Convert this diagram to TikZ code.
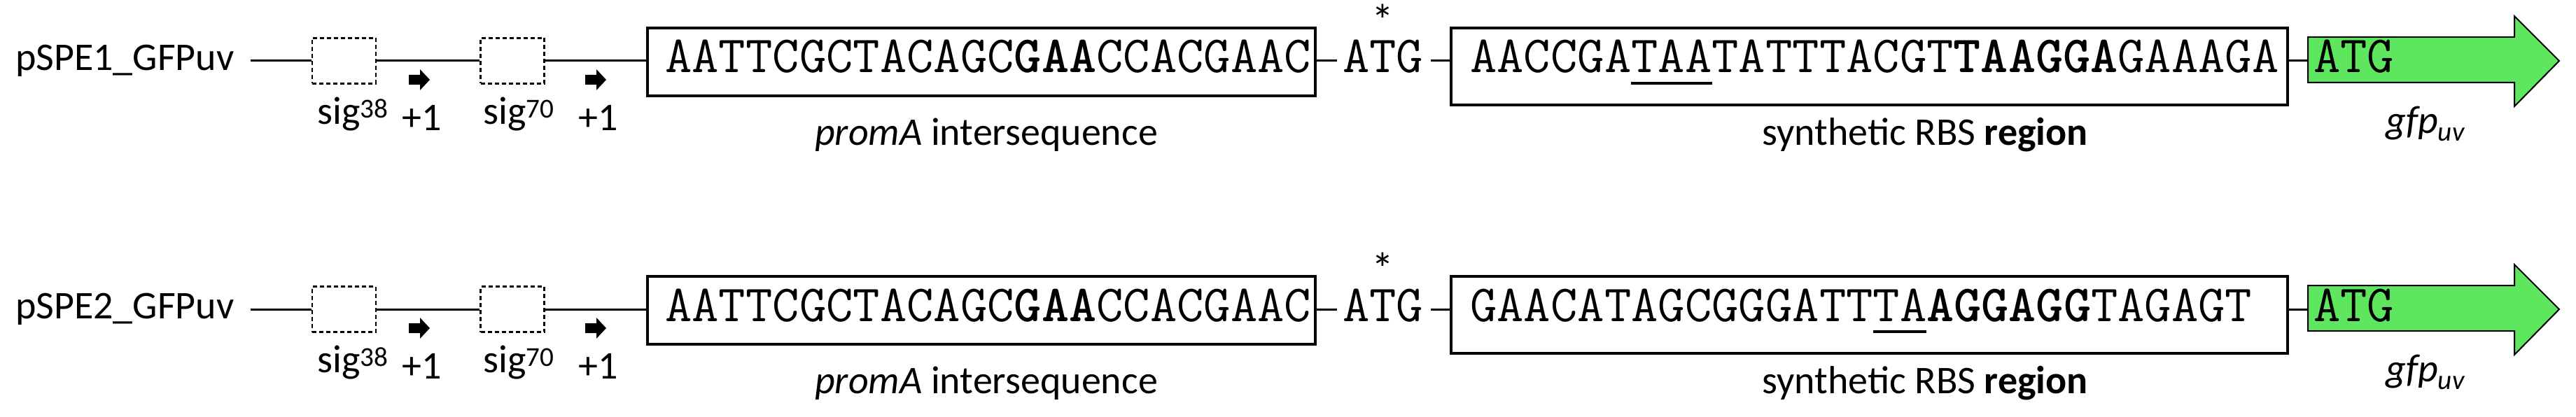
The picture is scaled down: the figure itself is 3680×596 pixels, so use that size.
\documentclass[tikz,border=0pt]{standalone}
\usepackage{fontspec}
\setmainfont{Carlito}
\tikzset{
  seqbox/.style={draw, line width=3.5pt, fill=white, inner sep=0pt},
  sigbox/.style={draw, dashed, dash pattern=on 6pt off 4pt, line width=2.5pt, fill=white, minimum width=91pt, minimum height=65pt, inner sep=0pt},
  lbl/.style={font=\fontsize{56}{60}\selectfont, inner sep=0pt},
  seqtxt/.style={font=\fontsize{74.5}{74}\selectfont\ttfamily, inner sep=0pt, anchor=base west},
  conn/.style={line width=3pt},
  tss/.style={fill=black}
}
\definecolor{gfpgreen}{RGB}{95,230,95}
\newcommand\ul[1]{\setbox0\hbox{#1}\rlap{\rule[-17pt]{\wd0}{4pt}}\box0}
\newcommand\tssarrow[2]{\fill[tss] (#1,#2) ++(0,-7) -- ++(16,0) -- ++(0,-8) -- ++(14,15) -- ++(-14,15) -- ++(0,-8) -- ++(-16,0) -- cycle;}
\newcommand\drawrow[3]{%
  \begin{scope}[yshift=-#1pt]
  \node[lbl, anchor=west] (n#2) at (22,87) {pSPE#2\_GFPuv};
  \coordinate (s#2) at (358,87);
  \node[sigbox] (a#2) at (491.5,87) {};
  \node[sigbox] (b#2) at (732,87) {};
  \node[seqbox, minimum width=954pt, minimum height=97pt] (p#2) at (1402,88.5) {};
  \node[seqtxt] at (950,104) {AATTCGCTACAGC\textbf{GAA}CCACGAAC};
  \node[seqtxt] (atg#2) at (1918,104) {ATG};
  \node[font=\fontsize{64}{64}\selectfont, inner sep=0pt, anchor=south] at (1975,52) {*};
  \node[seqbox, minimum width=1195pt, minimum height=110pt] (r#2) at (2670.5,95) {};
  \node[seqtxt] at (2100,104) {#3};
  \fill[gfpgreen, draw=black, line width=2pt] (3297,53) -- (3592,53) -- (3592,23) -- (3656,87) -- (3592,152) -- (3592,118) -- (3297,118) -- cycle;
  \coordinate (g#2) at (3297,87);
  \node[seqtxt] at (3305,104) {ATG};
  \draw[conn] (s#2) -- (a#2.west) (a#2.east) -- (b#2.west) (b#2.east) -- (p#2.west |- 0,87);
  \draw[conn] (p#2.east |- 0,87) -- (1910,87);
  \draw[conn] (2044,87) -- (r#2.west |- 0,87);
  \draw[conn] (r#2.east |- 0,87) -- (g#2);
  \tssarrow{584}{114}
  \tssarrow{836}{114}
  \node[lbl] at (504,163) {sig\textsuperscript{38}};
  \node[lbl] at (603,168) {+1};
  \node[lbl] at (741,163) {sig\textsuperscript{70}};
  \node[lbl] at (855,168) {+1};
  \node[lbl] at (1409,193) {\textit{promA} intersequence};
  \node[lbl] at (2750,193) {synthetic RBS \textbf{region}};
  \node[lbl] at (3465,177) {\textit{gfp}\textsubscript{\textit{uv}}};
  \end{scope}}
\begin{document}
\begin{tikzpicture}[x=1pt,y=-1pt]
\useasboundingbox (0,0) rectangle (3680,596);
\drawrow{0}{1}{AACCGA\ul{TAA}TATTTACGT\textbf{TAAGGA}GAAAGA}
\drawrow{355}{2}{GAACATAGCGGGATT\ul{TA}\textbf{AGGAGG}TAGAGT}
\end{tikzpicture}
\end{document}
